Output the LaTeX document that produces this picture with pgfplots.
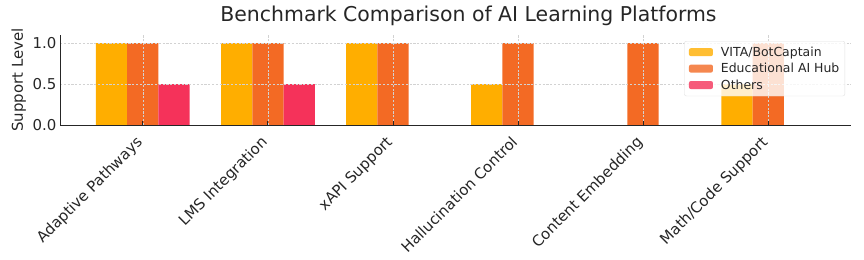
\documentclass[border=0pt]{standalone}
\usepackage{pgfplots}
\pgfplotsset{compat=1.18}
\usepackage{fontspec}
\setmainfont{DejaVu Sans}
\definecolor{cA}{RGB}{255,174,0}
\definecolor{cB}{RGB}{243,106,36}
\definecolor{cC}{RGB}{245,50,90}
\definecolor{txt}{RGB}{38,38,38}
\begin{document}
\begin{tikzpicture}
\begin{axis}[
  scale only axis, width=791bp, height=90bp,
  xmin=-0.6625, xmax=5.6625, ymin=0, ymax=1.1,
  axis lines*=left,
  axis line style={black!85, line width=0.9bp},
  ybar=0pt, bar width=31.25bp,
  xtick={0,1,2,3,4,5},
  xticklabels={Adaptive Pathways,LMS Integration,xAPI Support,Hallucination Control,Content Embedding,Math/Code Support},
  xticklabel style={rotate=45, anchor=north east, text=txt, font=\fontsize{15}{18}\selectfont, inner sep=1.5bp, xshift=-11bp, yshift=0bp},
  ytick={0,0.5,1}, yticklabels={0.0,0.5,1.0},
  yticklabel style={text=txt, font=\fontsize{15}{18}\selectfont},
  /pgf/number format/assume math mode=true,
  tick align=inside, major tick length=4bp,
  xtick style={black!85, line width=0.9bp},
  ytick style={draw=none},
  grid=major,
  major grid style={dash pattern=on 2.2bp off 1.6bp, gray!35, line width=0.6bp},
  axis on top,
  title={Benchmark Comparison of AI Learning Platforms},
  title style={font=\fontsize{20.5}{24}\selectfont, text=txt, at={(0.5,1)}, anchor=south, yshift=0bp, xshift=13bp},
  ylabel={Support Level},
  ylabel style={font=\fontsize{15}{18}\selectfont, text=txt},
  legend style={at={(rel axis cs:1,1)}, anchor=north east, xshift=-6bp, yshift=-6bp,
    fill=white, fill opacity=0.8, text opacity=1, draw=gray!25, rounded corners=2pt,
    font=\fontsize{12.5}{15}\selectfont, text=txt, row sep=1.5bp, inner sep=3.5bp},
  legend cell align=left,
  legend image code/.code={\fill[#1, draw=none] (0bp,-4bp) rectangle (24bp,4bp); \path (-1bp,0bp) (30bp,0bp);},
]
\addplot[fill=cA, draw=none] coordinates {(0,1) (1,1) (2,1) (3,0.5) (4,0) (5,0.5)};
\addplot[fill=cB, draw=none] coordinates {(0,1) (1,1) (2,1) (3,1) (4,1) (5,1)};
\addplot[fill=cC, draw=none] coordinates {(0,0.5) (1,0.5) (2,0) (3,0) (4,0) (5,0)};
\legend{VITA/BotCaptain,Educational AI Hub,Others}
\coordinate (O) at (rel axis cs:0,0);
\end{axis}
\pgfresetboundingbox
\path[use as bounding box] ([shift={(-60bp,-135bp)}]O) rectangle ([shift={(804bp,125bp)}]O);
\end{tikzpicture}
\end{document}
